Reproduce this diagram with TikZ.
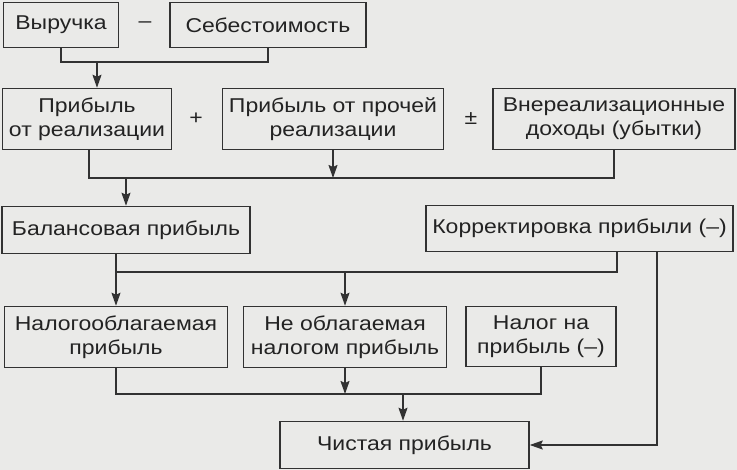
\documentclass[tikz,border=0pt]{standalone}
\usepackage{fontspec}
\setmainfont{Liberation Sans}[FakeStretch=1.15]
\usetikzlibrary{arrows.meta}
\definecolor{bgc}{RGB}{234,234,232}
\definecolor{lnc}{RGB}{50,50,50}
\definecolor{txc}{RGB}{35,35,35}
\tikzset{
  box/.style={draw=lnc, line width=1.5pt, fill=bgc, align=center, inner sep=0pt, text=txc,
    font=\fontsize{20}{24}\selectfont},
  op/.style={text=txc, inner sep=0pt, font=\fontsize{20}{24}\selectfont},
  ln/.style={draw=lnc, line width=1.6pt},
  arr/.style={ln, -{Stealth[length=13pt,width=9pt,inset=2pt]}},
}
\begin{document}
\begin{tikzpicture}[x=1pt,y=-1pt]
\useasboundingbox (0,0) rectangle (737,470);
\fill[bgc] (0,0) rectangle (737,470);
% row 1
\node[box, minimum width=115pt, minimum height=45pt] (vyr) at (61,25) {Выручка};
\node[box, minimum width=196pt, minimum height=45pt] (seb) at (268,25) {Себестоимость};
\node[op] (minus) at (145,25) {–};
% row 2
\node[box, minimum width=169pt, minimum height=61pt] (pr1) at (87,119) {Прибыль\\от реализации};
\node[box, minimum width=221pt, minimum height=61pt] (pr2) at (333,119) {Прибыль от прочей\\реализации};
\node[box, minimum width=242pt, minimum height=61pt] (vne) at (614,119) {Внереализационные\\доходы (убытки)};
\node[op] (plus) at (196,119) {+};
\node[op] (pm) at (471,119) {±};
% row 3
\node[box, minimum width=248pt, minimum height=47pt] (bal) at (126,230) {Балансовая прибыль};
\node[box, minimum width=307pt, minimum height=46pt] (kor) at (579.5,228.5) {Корректировка прибыли (–)};
% row 4
\node[box, minimum width=223pt, minimum height=61pt] (nal) at (116,337) {Налогооблагаемая\\прибыль};
\node[box, minimum width=203pt, minimum height=61pt] (neo) at (345,337) {Не облагаемая\\налогом прибыль};
\node[box, minimum width=150pt, minimum height=60pt] (nap) at (541,336.5) {Налог на\\прибыль (–)};
% row 5
\node[box, minimum width=249pt, minimum height=47pt] (chi) at (404.5,445) {Чистая прибыль};
% connectors 1
\coordinate (j1) at (97,62);
\draw[ln] (vyr.south) |- (j1) -| (seb.south);
\draw[arr] (j1) -- (j1 |- pr1.north);
% connectors 2
\coordinate (j2) at (126,178);
\coordinate (j2a) at (89,178);
\draw[ln] (pr1.south -| j2a) -- (j2a) -| (vne.south);
\draw[arr] (pr2.south) -- (pr2.south |- j2);
\draw[arr] (j2) -- (j2 |- bal.north);
% connectors 3
\coordinate (j3) at (116,272);
\coordinate (j3r) at (617,272);
\coordinate (j4) at (345,272);
\draw[ln] (bal.south -| j3) -- (j3) -- (j3r) -- (j3r |- kor.south);
\draw[arr] (j3) -- (j3 |- nal.north);
\draw[arr] (j4) -- (j4 |- neo.north);
\coordinate (k1) at (657,445);
\draw[arr] (kor.south -| k1) -- (k1) -- (chi.east);
% connectors 4
\coordinate (j5) at (403,394);
\draw[ln] (nal.south) |- (j5) -| (nap.south);
\draw[arr] (neo.south) -- (neo.south |- j5);
\draw[arr] (j5) -- (j5 |- chi.north);
\end{tikzpicture}
\end{document}
